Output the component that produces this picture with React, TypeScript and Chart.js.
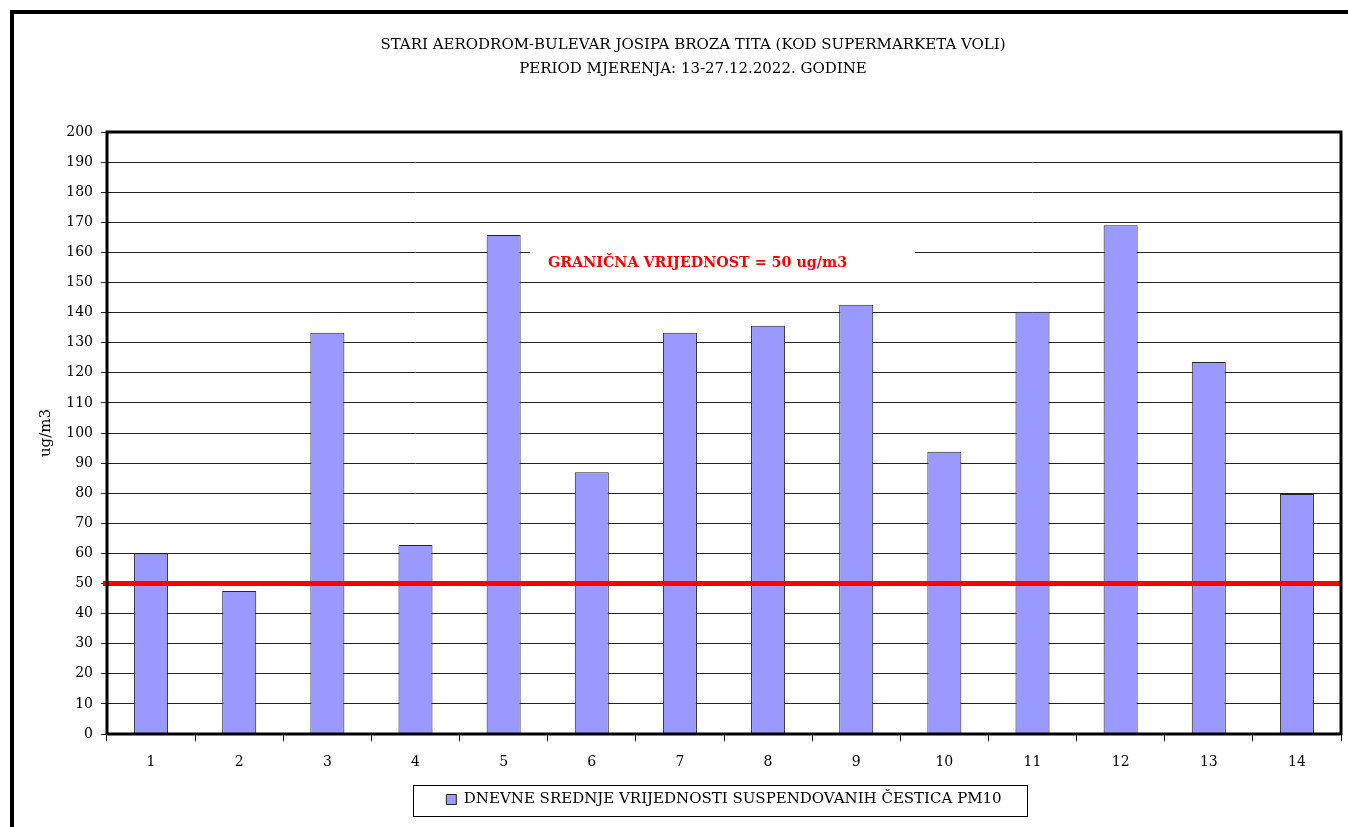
import React, { useEffect, useRef } from 'react';
import { Chart, registerables } from 'chart.js';

Chart.register(...registerables);

const categories: string[] = ['1', '2', '3', '4', '5', '6', '7', '8', '9', '10', '11', '12', '13', '14'];
const pm10Values: number[] = [60, 47.5, 133.3, 62.8, 165.8, 87, 133.3, 135.6, 142.6, 93.8, 140.3, 169, 123.6, 79.7];
const limitValue = 50;
const yMin = 0;
const yMax = 200;
const yStep = 10;
const titleLines: string[] = [
  'STARI AERODROM-BULEVAR JOSIPA BROZA TITA (KOD SUPERMARKETA VOLI)',
  'PERIOD MJERENJA: 13-27.12.2022. GODINE',
];
const limitLabel = 'GRANIČNA VRIJEDNOST = 50 ug/m3';
const seriesLabel = 'DNEVNE SREDNJE VRIJEDNOSTI SUSPENDOVANIH ČESTICA PM10';
const yAxisTitle = 'ug/m3';

const FONT = '"DejaVu Serif", "Liberation Serif", serif';

const decorPlugin = {
  id: 'decor',
  beforeDraw(chart: any) {
    const { ctx } = chart;
    ctx.save();
    ctx.fillStyle = '#ffffff';
    ctx.fillRect(0, 0, chart.width, chart.height);
    ctx.restore();
  },
  afterLayout(chart: any) {
    const lg = chart.legend;
    if (lg) {
      const shift = (chart.chartArea.left + chart.chartArea.right) / 2 - (lg.left + lg.right) / 2;
      lg.left += shift;
      lg.right += shift;
    }
    const tb = chart.titleBlock;
    if (tb) {
      const shift = 693 - (tb.left + tb.right) / 2;
      tb.left += shift;
      tb.right += shift;
    }
  },
  afterDatasetsDraw(chart: any) {
    const { ctx, chartArea } = chart;
    const y = chart.scales.y.getPixelForValue(limitValue);
    ctx.save();
    // limit label with white background
    ctx.font = `bold 14.3px ${FONT}`;
    const labelY = chart.scales.y.getPixelForValue(156.5);
    const textW = ctx.measureText(limitLabel).width;
    const textLeft = chartArea.left + 441;
    ctx.fillStyle = '#ffffff';
    ctx.fillRect(textLeft - 18, labelY - 20, textW + 86, 34);
    ctx.fillStyle = '#ff0000';
    ctx.textAlign = 'left';
    ctx.textBaseline = 'middle';
    ctx.fillText(limitLabel, textLeft, labelY);
    // red limit line
    ctx.strokeStyle = '#ff0000';
    ctx.lineWidth = 5;
    ctx.beginPath();
    ctx.moveTo(chartArea.left - 4, y);
    ctx.lineTo(chartArea.right, y);
    ctx.stroke();
    // plot frame
    ctx.strokeStyle = '#000000';
    ctx.lineWidth = 3;
    ctx.strokeRect(chartArea.left, chartArea.top, chartArea.right - chartArea.left, chartArea.bottom - chartArea.top);
    ctx.restore();
  },
  afterDraw(chart: any) {
    const { ctx, chartArea } = chart;
    ctx.save();
    // outer border
    ctx.strokeStyle = '#000000';
    ctx.lineWidth = 4;
    ctx.beginPath();
    ctx.moveTo(12, chart.height + 10);
    ctx.lineTo(12, 12);
    ctx.lineTo(chart.width + 10, 12);
    ctx.stroke();
    // legend border
    const lg = chart.legend;
    if (lg && lg.legendHitBoxes && lg.legendHitBoxes.length) {
      const hb = lg.legendHitBoxes[0];
      const cx = (chartArea.left + chartArea.right) / 2 - 4;
      const cy = hb.top + hb.height / 2;
      ctx.strokeStyle = '#000000';
      ctx.lineWidth = 1;
      ctx.strokeRect(Math.round(cx - 307) + 0.5, Math.round(cy - 15) + 0.5, 614, 31);
    }
    ctx.restore();
  },
};

export default function App() {
  const canvasRef = useRef<HTMLCanvasElement | null>(null);

  useEffect(() => {
    document.body.style.margin = '0';
    const canvas = canvasRef.current;
    if (!canvas) return;
    const chart = new Chart(canvas, {
      type: 'bar',
      data: {
        labels: categories,
        datasets: [
          {
            label: seriesLabel,
            data: pm10Values,
            backgroundColor: '#9999ff',
            borderColor: '#222222',
            borderWidth: 1,
            categoryPercentage: 1,
            barPercentage: 0.386,
          },
        ],
      },
      options: {
        animation: false,
        responsive: true,
        maintainAspectRatio: false,
        layout: { padding: { top: 0, left: 0, right: 7, bottom: 10 } },
        plugins: {
          title: {
            display: true,
            text: titleLines,
            color: '#000000',
            font: { family: FONT, size: 15, weight: 'normal', lineHeight: 24 / 15 },
            padding: { top: 33, bottom: 51 },
          },
          legend: {
            display: true,
            position: 'bottom',
            labels: {
              color: '#000000',
              font: { family: FONT, size: 15 },
              boxWidth: 10,
              boxHeight: 10,
              padding: 9,
            },
          },
          tooltip: { enabled: false },
        },
        scales: {
          x: {
            offset: true,
            grid: {
              offset: true,
              drawOnChartArea: false,
              drawTicks: true,
              tickLength: 7,
              color: '#000000',
              lineWidth: 1,
            },
            border: { display: false },
            ticks: {
              color: '#000000',
              font: { family: FONT, size: 14 },
              padding: 13,
            },
            afterFit(scale: any) {
              scale.height = 49;
            },
          },
          y: {
            min: yMin,
            max: yMax,
            ticks: {
              stepSize: yStep,
              color: '#000000',
              font: { family: FONT, size: 14 },
              padding: 8,
            },
            grid: {
              color: '#222222',
              lineWidth: 1,
              tickLength: 6,
            },
            border: { display: false },
            title: {
              display: true,
              text: yAxisTitle,
              color: '#000000',
              font: { family: FONT, size: 15 },
              padding: { top: 37, bottom: 0 },
            },
            afterFit(scale: any) {
              scale.width = 107;
            },
          },
        },
      },
      plugins: [decorPlugin],
    });
    return () => chart.destroy();
  }, []);

  return (
    <div style={{ width: 1348, height: 827, position: 'relative' }}>
      <canvas ref={canvasRef} />
    </div>
  );
}
